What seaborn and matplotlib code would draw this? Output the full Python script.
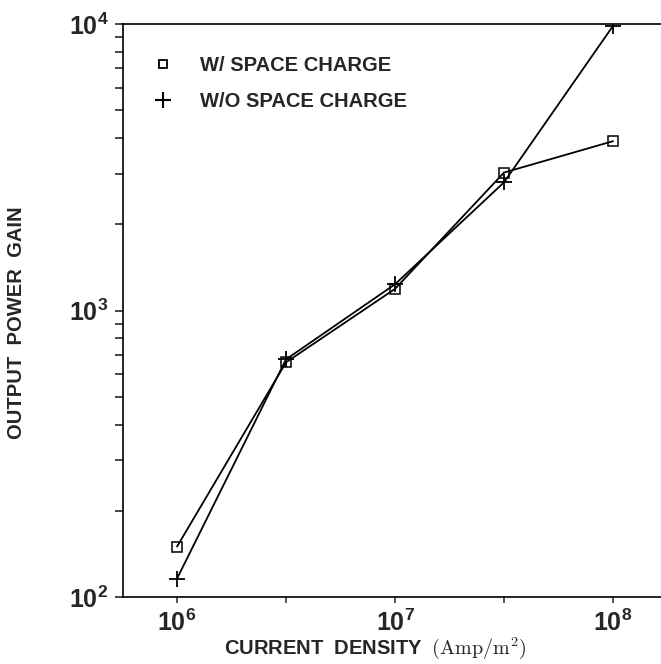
import numpy as np
import pandas as pd
import matplotlib
matplotlib.use("Agg")
import matplotlib.pyplot as plt
from matplotlib.lines import Line2D
from matplotlib.ticker import FixedLocator, LogLocator, NullFormatter, LogFormatterSciNotation
import seaborn as sns

# Current density (A/m^2) and output power gain for both cases
current_density = [1e6, 3.16e6, 1e7, 3.16e7, 1e8]
gain_with_sc = [150, 659, 1190, 3030, 3900]
gain_without_sc = [116, 675, 1235, 2800, 9850]
series_labels = ["W/ SPACE CHARGE", "W/O SPACE CHARGE"]

sns.set_style("ticks")
plt.rcParams["font.family"] = ["Liberation Sans", "DejaVu Sans"]
plt.rcParams["mathtext.fontset"] = "cm"

fig = plt.figure(figsize=(6.61, 6.64), dpi=100)
W, H = 661, 664
left, right, top, bottom = 123, 661, 24, 597
ax = fig.add_axes([left / W, 1 - bottom / H, (right - left) / W, (bottom - top) / H])

df_sc = pd.DataFrame({"J": current_density, "G": gain_with_sc})
df_nosc = pd.DataFrame({"J": current_density, "G": gain_without_sc})

sns.lineplot(data=df_sc, x="J", y="G", ax=ax, color="black", linewidth=1.3,
             marker="s", markersize=7.2, markerfacecolor="none",
             markeredgecolor="black", markeredgewidth=1.1, legend=False,
             errorbar=None)
sns.lineplot(data=df_nosc, x="J", y="G", ax=ax, color="black", linewidth=1.3,
             marker="+", markersize=11, markeredgecolor="black",
             markeredgewidth=1.3, legend=False, errorbar=None)

ax.set_xscale("log")
ax.set_yscale("log")
ax.set_xlim(10 ** 5.752, 10 ** 8.22)
ax.set_ylim(1e2, 1e4)

# x: decade labels plus unlabeled half-decade ticks
ax.xaxis.set_major_locator(FixedLocator([1e6, 1e7, 1e8]))
ax.xaxis.set_major_formatter(LogFormatterSciNotation())
ax.xaxis.set_minor_locator(FixedLocator([10 ** 6.5, 10 ** 7.5]))
ax.xaxis.set_minor_formatter(NullFormatter())
ax.yaxis.set_major_locator(FixedLocator([1e2, 1e3, 1e4]))
ax.yaxis.set_major_formatter(LogFormatterSciNotation())
ax.yaxis.set_minor_locator(LogLocator(base=10, subs=np.arange(2, 10)))
ax.yaxis.set_minor_formatter(NullFormatter())

ax.tick_params(axis="x", which="both", direction="out", length=4, width=1.1,
               pad=5, labelsize=18, top=False)
ax.tick_params(axis="y", which="both", direction="out", length=5.5, width=1.2,
               pad=5, labelsize=18, right=False)
for lab in ax.get_xticklabels() + ax.get_yticklabels():
    lab.set_fontweight("semibold")

for side in ["left", "bottom", "top"]:
    ax.spines[side].set_linewidth(1.2)
    ax.spines[side].set_color("black")
ax.spines["right"].set_visible(False)

ax.set_xlabel(r"CURRENT  DENSITY  $(\mathrm{Amp}/\mathrm{m}^2)$",
              fontsize=14.5, fontweight="bold")
ax.set_ylabel("OUTPUT  POWER  GAIN", fontsize=14.5, fontweight="bold")
ax.xaxis.set_label_coords((375 - left) / (right - left), -(648 - bottom) / (bottom - top))
ax.yaxis.set_label_coords(-(123 - 17) / (right - left), (bottom - 323) / (bottom - top))
ax.xaxis.label.set_verticalalignment("center")
ax.yaxis.label.set_verticalalignment("center")

handles = [
    Line2D([], [], linestyle="none", marker="s", markersize=6, markerfacecolor="none",
           markeredgecolor="black", markeredgewidth=1.3),
    Line2D([], [], linestyle="none", marker="+", markersize=11,
           markeredgecolor="black", markeredgewidth=1.5),
]
leg = ax.legend(handles, series_labels, loc="upper left",
                bbox_to_anchor=((153 - left) / (right - left), (bottom - 56) / (bottom - top)),
                frameon=False, handlelength=1.0, handletextpad=1.35,
                labelspacing=0.85, borderaxespad=0, borderpad=0,
                prop={"weight": "bold", "size": 14.5})

fig.savefig("out.png", dpi=100)
